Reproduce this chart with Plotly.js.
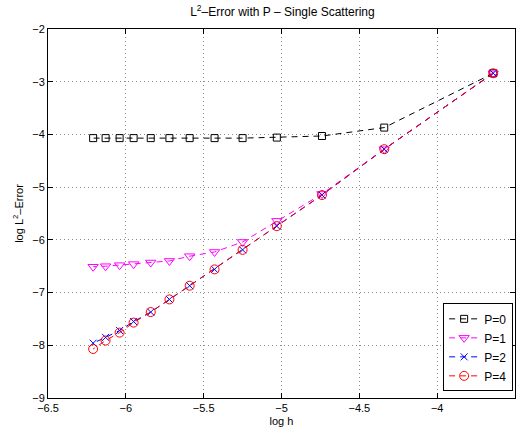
<!DOCTYPE html>
<html><head><meta charset="utf-8">
<script src="https://cdn.plot.ly/plotly-3.0.1.min.js"></script>
<style>html,body{margin:0;padding:0;background:#fff}#plot{width:523px;height:435px}</style>
</head><body><div id="plot"></div>
<script>
const logH = [-3.64, -4.34, -4.74, -5.03, -5.25, -5.43, -5.59, -5.72, -5.84, -5.95, -6.04, -6.13, -6.21];
const errP0 = [-2.84, -3.87, -4.03, -4.06, -4.07, -4.07, -4.07, -4.07, -4.07, -4.07, -4.07, -4.07, -4.07];
const errP1 = [-2.84, -4.28, -5.13, -5.64, -6.04, -6.23, -6.31, -6.40, -6.43, -6.46, -6.48, -6.50, -6.51];
const errP2 = [-2.84, -4.28, -5.15, -5.74, -6.19, -6.56, -6.87, -7.13, -7.37, -7.55, -7.72, -7.85, -7.96];
const errP4 = [-2.84, -4.28, -5.15, -5.74, -6.19, -6.56, -6.87, -7.13, -7.37, -7.57, -7.76, -7.91, -8.07];
const names = ['P=0', 'P=1', 'P=2', 'P=4'];
const xTicks = [-6.5, -6, -5.5, -5, -4.5, -4, -3.5];
const yTicks = [-9, -8, -7, -6, -5, -4, -3, -2];

const styles = [
  {color: '#000000', symbol: 'square-open', size: 7},
  {color: '#ff00ff', symbol: 'triangle-down-open', size: 9},
  {color: '#0000ff', symbol: 'x-thin-open', size: 7},
  {color: '#ff0000', symbol: 'circle-open', size: 9}
];
const series = [errP0, errP1, errP2, errP4];
const traces = series.map((ys, i) => ({
  x: logH, y: ys, name: names[i], type: 'scatter', mode: 'lines+markers',
  line: {color: styles[i].color, width: 1, dash: '6px,5px'},
  marker: {symbol: styles[i].symbol, size: styles[i].size, color: styles[i].color,
           line: {color: styles[i].color, width: 1}}
}));

const font = {family: 'Liberation Sans, Arial, sans-serif', size: 11, color: '#000'};
const axisCommon = {
  showline: true, linecolor: '#000', linewidth: 1, mirror: 'ticks',
  ticks: 'inside', ticklen: 5, tickcolor: '#000', tickwidth: 1,
  showgrid: true, gridcolor: '#8c8c8c', griddash: '1px,3px', gridwidth: 1,
  zeroline: false, tickfont: font
};
const layout = {
  width: 523, height: 435,
  margin: {l: 48, r: 8, t: 29, b: 37},
  paper_bgcolor: '#fff', plot_bgcolor: '#fff',
  font: font,
  title: {text: 'L<sup>2</sup>–Error with P – Single Scattering', font: {family: font.family, size: 12, color: '#000'}, x: 0.54, xanchor: 'center', y: 0.972, yanchor: 'middle'},
  xaxis: Object.assign({}, axisCommon, {range: [-6.5, -3.5], tickvals: xTicks, ticktext: xTicks.map(v => String(v).replace('-', '−')),
    title: {text: 'log h', font: font, standoff: 4}}),
  yaxis: Object.assign({}, axisCommon, {range: [-9, -2], tickvals: yTicks, ticktext: yTicks.map(v => String(v).replace('-', '−')),
    title: {text: 'log L<sup>2</sup>–Error', font: font, standoff: 6}}),
  showlegend: true,
  legend: {x: 0.996, y: 0.018, xanchor: 'right', yanchor: 'bottom', bgcolor: '#fff', bordercolor: '#000', borderwidth: 1,
    font: {family: font.family, size: 12, color: '#000'}, tracegroupgap: 0, itemwidth: 30}
};
Plotly.newPlot('plot', traces, layout, {displayModeBar: false, staticPlot: true});
</script>
</body></html>
